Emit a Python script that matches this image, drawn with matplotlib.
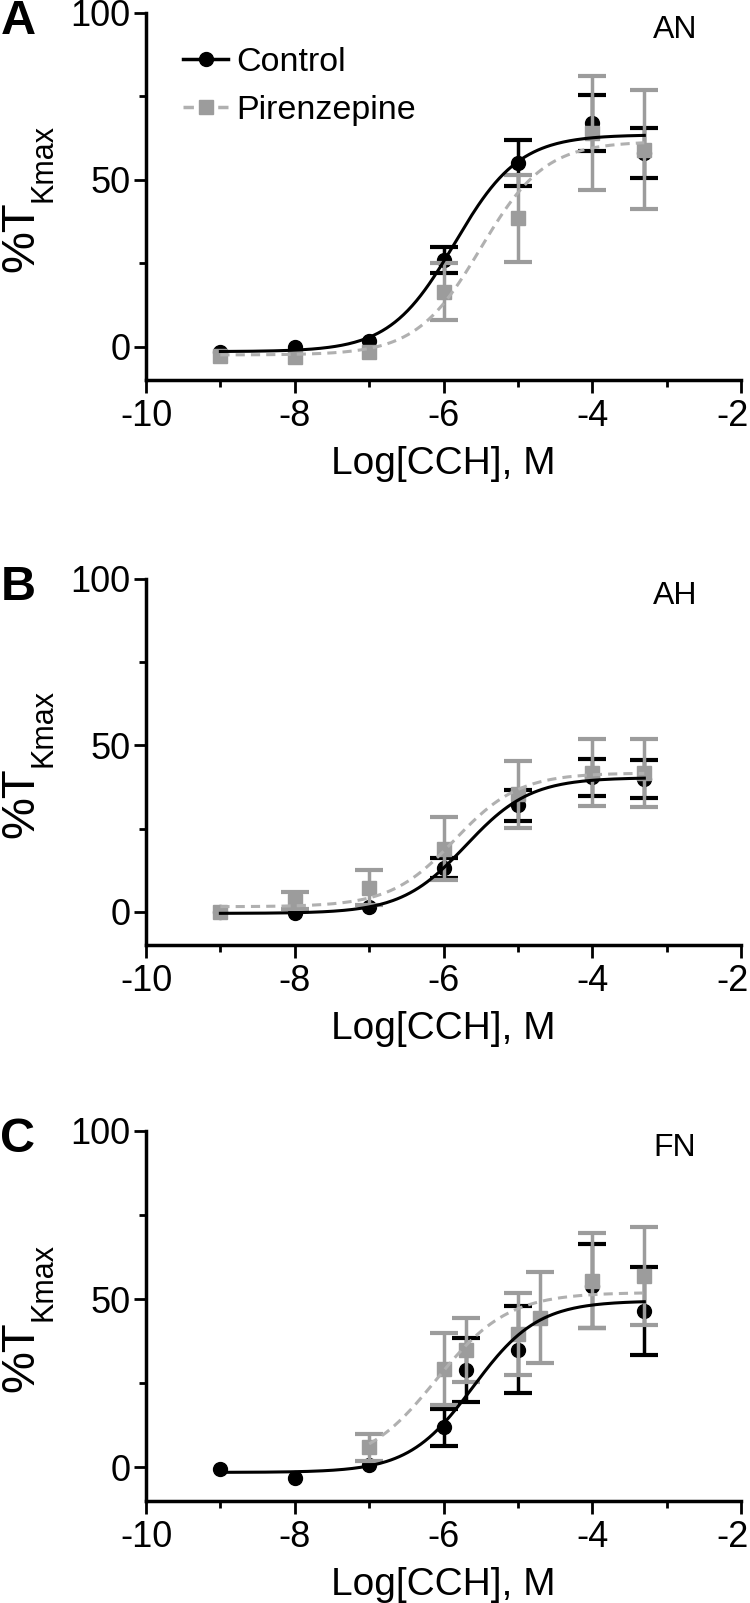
import numpy as np
import matplotlib
matplotlib.use('Agg')
import matplotlib.pyplot as plt
import matplotlib.transforms as mtransforms
from matplotlib.lines import Line2D

plt.rcParams['font.family'] = ['Liberation Sans', 'DejaVu Sans']
plt.rcParams['axes.unicode_minus'] = False

nan = np.nan

panel_letters = ['A', 'B', 'C']
regions = ['AN', 'AH', 'FN']

# --- panel A (AN) ---
ctrl_x_a = [-9, -8, -7, -6, -5, -4, -3.3]
ctrl_y_a = [-1.5, 0, 1.8, 26, 55, 67, 58]
ctrl_e_a = [nan, nan, nan, 4, 7, 8.5, 7.5]
pir_x_a = [-9, -8, -7, -6, -5, -4, -3.3]
pir_y_a = [-2.7, -3, -1.5, 16.5, 38.5, 64, 59]
pir_e_a = [nan, nan, nan, 8.5, 13, 17, 17.8]
# fit: bottom, top, logEC50, hill
ctrl_fit_a = [-1.5, 63.5, -5.85, 1.0]
pir_fit_a = [-2.5, 61.5, -5.5, 1.0]

# --- panel B (AH) ---
ctrl_x_b = [-9, -8, -7, -6, -5, -4, -3.3]
ctrl_y_b = [-0.2, -0.5, 1.3, 13, 32, 40.4, 40]
ctrl_e_b = [nan, nan, nan, 3, 4.7, 5.5, 5.7]
pir_x_b = [-9, -8, -7, -6, -5, -4, -3.3]
pir_y_b = [0, 3.3, 7.2, 19, 35.3, 41.8, 41.7]
pir_e_b = [nan, 2.5, 5.2, 9.6, 10, 10, 10.2]
ctrl_fit_b = [-0.5, 40.3, -5.7, 1.0]
pir_fit_b = [1.5, 41.7, -5.85, 1.0]

# --- panel C (FN) ---
ctrl_x_c = [-9, -8, -7, -6, -5.7, -5, -4, -3.3]
ctrl_y_c = [-0.5, -3.2, 0.8, 12, 28.9, 35, 54, 46.5]
ctrl_e_c = [nan, nan, nan, 5.5, 9.6, 13, 12.5, 13]
pir_x_c = [-7, -6, -5.7, -5, -4.7, -4, -3.3]
pir_y_c = [6, 29.2, 34.8, 39.6, 44.5, 55.5, 56.9]
pir_e_c = [4, 10.7, 9.5, 12.2, 13.5, 14.1, 14.5]
ctrl_fit_c = [-1.5, 49.5, -5.6, 1.0]
pir_fit_c = [0, 52, -6.1, 0.9]

fit_start_ctrl = [-9, -9, -9]
fit_start_pir = [-9, -9, -7]
fit_end = -3.3

data = [
    (ctrl_x_a, ctrl_y_a, ctrl_e_a, pir_x_a, pir_y_a, pir_e_a, ctrl_fit_a, pir_fit_a),
    (ctrl_x_b, ctrl_y_b, ctrl_e_b, pir_x_b, pir_y_b, pir_e_b, ctrl_fit_b, pir_fit_b),
    (ctrl_x_c, ctrl_y_c, ctrl_e_c, pir_x_c, pir_y_c, pir_e_c, ctrl_fit_c, pir_fit_c),
]

BLACK = '#000000'
GRAY = '#9c9c9c'
GRAY_LINE = '#b0b0b0'


def sigmoid(x, p):
    bottom, top, logec, hill = p
    return bottom + (top - bottom) / (1 + 10 ** ((logec - x) * hill))


fig = plt.figure(figsize=(7.5, 16.03), dpi=100)
W, H = 750.0, 1603.0
ax_px = [(13, 380), (579, 945), (1131, 1501)]   # y of "100" and y of axis line
left, right = 146, 741

for i, (cx, cy, ce, px, py, pe, cfit, pfit) in enumerate(data):
    top_px, bot_px = ax_px[i]
    ax = fig.add_axes([left / W, 1 - bot_px / H, (right - left) / W, (bot_px - top_px) / H])

    ax.errorbar(cx, cy, yerr=ce, fmt='o', color=BLACK, ms=10, elinewidth=2.5,
                capsize=10, capthick=3, zorder=2)
    ax.errorbar(px, py, yerr=pe, fmt='s', color=GRAY, ms=10.5, elinewidth=2.5,
                capsize=10, capthick=3, zorder=3)

    xc = np.linspace(fit_start_ctrl[i], fit_end, 200)
    ax.plot(xc, sigmoid(xc, cfit), color=BLACK, lw=2.2, zorder=5)
    xp = np.linspace(fit_start_pir[i], fit_end, 200)
    ax.plot(xp, sigmoid(xp, pfit), color=GRAY_LINE, lw=2.2, ls=(0, (3, 2)), zorder=4)

    ax.set_xlim(-10, -2)
    ax.set_ylim(-10, 100)
    ax.set_xticks([-10, -8, -6, -4, -2])
    ax.set_xticks([-9, -7, -5, -3], minor=True)
    ax.set_yticks([0, 50, 100])
    ax.set_yticks([25, 75], minor=True)
    ax.tick_params(which='major', length=9, width=2, labelsize=26, direction='out')
    ax.tick_params(which='minor', length=5, width=2, direction='out')
    ax.tick_params(axis='x', pad=5)
    ax.tick_params(axis='y', pad=2)
    for s in ['top', 'right']:
        ax.spines[s].set_visible(False)
    for s in ['left', 'bottom']:
        ax.spines[s].set_linewidth(2.5)

    # nudge the "-2" label a little left so it stays on the page
    last = ax.get_xticklabels()[-1]
    last.set_transform(last.get_transform() +
                       mtransforms.ScaledTranslation(-8 / 100, 0, fig.dpi_scale_trans))

    ax.set_xlabel('Log[CCH], M', fontsize=28, labelpad=8)

    # y label: big "%T" with a "Kmax" subscript
    split_px = (top_px + bot_px) / 2.0 + 5
    fig.text(21 / W, 1 - split_px / H, '%T', fontsize=34, rotation=90,
             ha='center', va='top')
    fig.text(44 / W, 1 - split_px / H, 'Kmax', fontsize=22, rotation=90,
             ha='center', va='bottom')

    ax.text(0.889, (bot_px - top_px - 25) / (bot_px - top_px), regions[i],
            fontsize=23, ha='center', va='baseline', transform=ax.transAxes)
    fig.text(18 / W, 1 - (top_px + 9) / H, panel_letters[i], fontsize=35,
             fontweight='bold', ha='center', va='center')

    if i == 0:
        handles = [
            Line2D([], [], color=BLACK, lw=2.5, marker='o', ms=10),
            Line2D([], [], color=GRAY_LINE, lw=2.5, ls=(0, (3, 2)), marker='s', ms=10,
                   markerfacecolor=GRAY, markeredgecolor=GRAY),
        ]
        ax.legend(handles, ['Control', 'Pirenzepine'], loc='upper left',
                  bbox_to_anchor=(0.04, 0.945), frameon=False, fontsize=24.5,
                  handlelength=1.3, handletextpad=0.25, labelspacing=0.5,
                  borderaxespad=0)

fig.savefig('out.png', dpi=100)
